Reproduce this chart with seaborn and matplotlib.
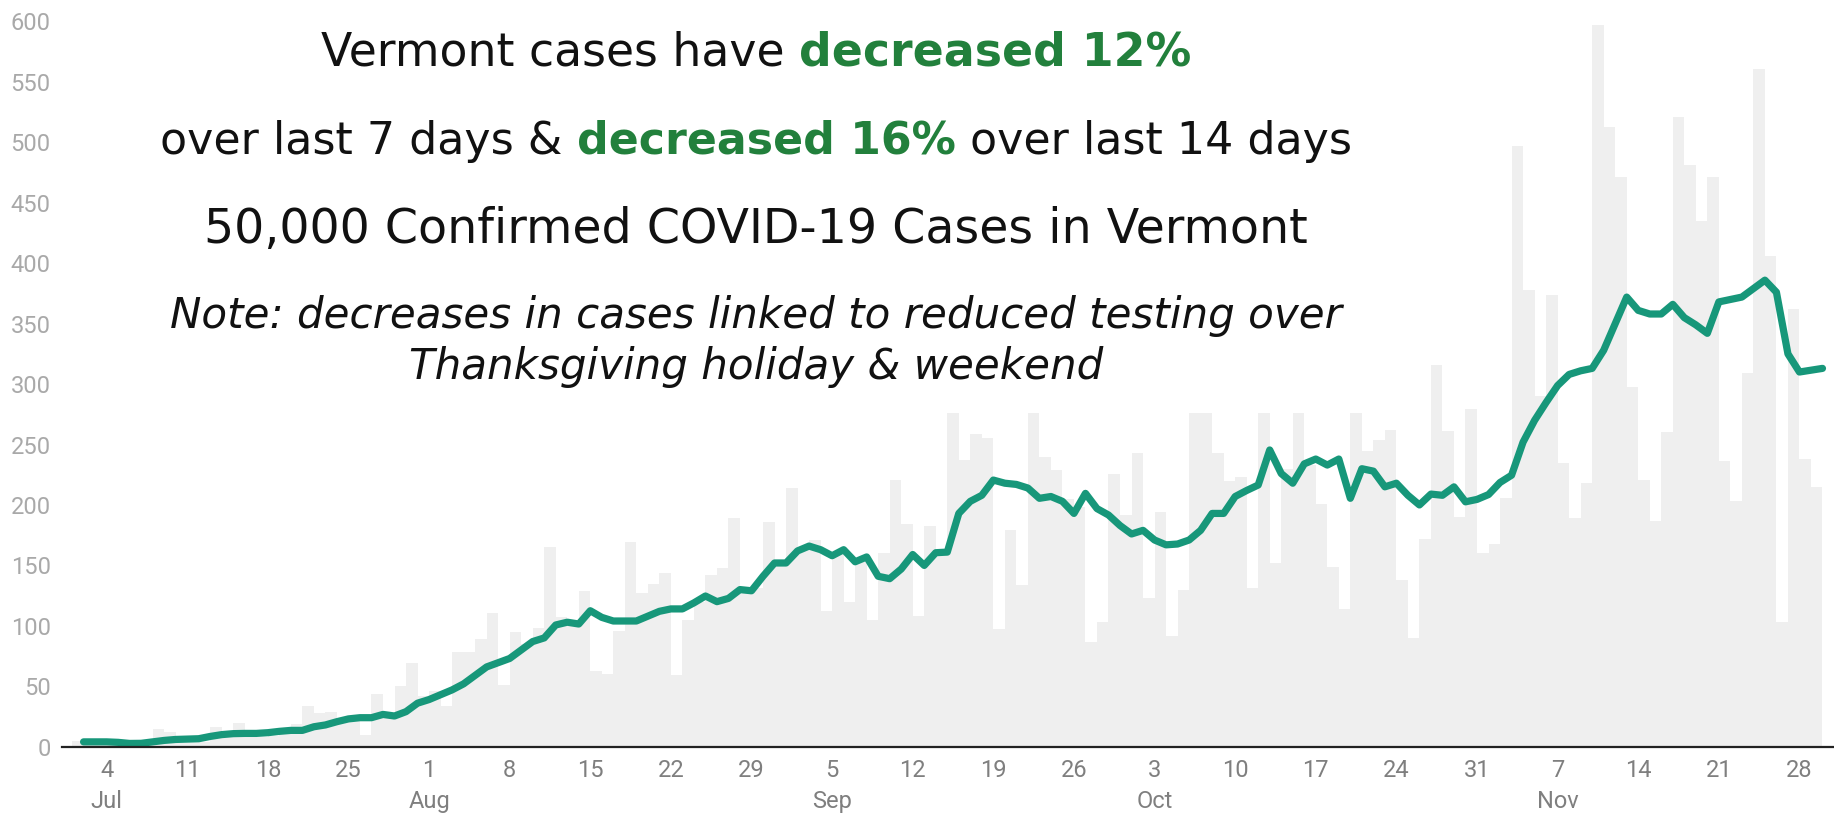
import numpy as np
import pandas as pd
import matplotlib
matplotlib.use("Agg")
import matplotlib.pyplot as plt
from matplotlib.patches import Rectangle
import seaborn as sns

# daily confirmed cases, Jul 1 - Nov 29 2020
cases = [5, 6, 3, 4, 2, 1, 3, 15, 12, 6,
         7, 4, 16, 8, 20, 10, 8, 9, 13, 19,
         34, 28, 29, 24, 22, 10, 44, 28, 50, 69,
         42, 46, 34, 78, 78, 89, 111, 51, 95, 85,
         98, 165, 107, 105, 129, 63, 60, 96, 169, 127,
         135, 144, 59, 105, 120, 142, 148, 189, 127, 131,
         186, 150, 214, 165, 171, 112, 160, 120, 154, 105,
         160, 221, 184, 108, 183, 161, 330, 237, 259, 255,
         97, 179, 134, 290, 240, 229, 205, 198, 87, 103,
         226, 192, 243, 123, 194, 92, 130, 290, 300, 243,
         220, 223, 131, 335, 152, 230, 355, 233, 201, 149,
         114, 323, 245, 254, 262, 138, 90, 172, 316, 261,
         190, 279, 160, 168, 206, 497, 378, 290, 374, 235,
         189, 218, 597, 513, 471, 298, 221, 187, 260, 521,
         481, 435, 471, 236, 203, 309, 561, 406, 103, 362,
         238, 215]

# 7-day average as drawn (value at the end of each day)
avg7 = [4, 4, 4, 3.6, 2.7, 2.8, 4, 5.2, 6, 6.3,
        6.6, 8.5, 10, 10.8, 11, 11, 11.6, 12.7, 13.5, 13.5,
        16.5, 18, 20.7, 23, 24, 24, 26.7, 25.4, 29, 36,
        39, 43, 47, 52, 59, 66, 69.5, 73, 80, 87,
        90, 100.7, 103, 101.5, 112.5, 107, 104, 104, 104, 108,
        112, 114, 114, 119, 124.7, 120, 122.7, 130, 129, 141,
        152, 152, 162, 166, 163, 158, 163, 153, 157, 141,
        139, 147, 159, 150, 160.5, 161, 193, 203, 208, 220.6,
        218, 217, 214, 205.5, 207, 203, 193, 209.6, 197, 191.7,
        183, 176, 179, 171, 167, 167.7, 171, 179, 193, 193,
        207, 212, 216.5, 245.5, 226, 218, 234, 238, 233, 238,
        205.5, 230, 228, 215, 218, 208, 200, 209, 208, 215,
        202.6, 204.6, 208.6, 218.6, 224.6, 252, 270, 284.8, 298.8, 308,
        311, 313, 328, 350, 372, 361, 358, 358, 366, 355,
        349, 342, 368, 370, 372, 379, 386, 376, 325, 310,
        311.5, 313]

tick_labels = ["4\nJul", "11", "18", "25", "1\nAug", "8", "15", "22", "29",
               "5\nSep", "12", "19", "26", "3\nOct", "10", "17", "24", "31",
               "7\nNov", "14", "21", "28"]
y_ticks = list(range(0, 601, 50))

dates = pd.date_range("2020-07-01", "2020-11-29", freq="D")
origin = pd.Timestamp("2020-07-04")
df = pd.DataFrame({"date": dates, "cases": cases, "avg": avg7})
df["day"] = (df["date"] - origin).dt.days
df["mid"] = df["day"] + 0.5      # bar sits over its own day
df["end"] = df["day"] + 1        # average plotted at end of day
tick_pos = [(d - origin).days for d in pd.date_range("2020-07-04", periods=len(tick_labels), freq="7D")]

sns.set_theme(style="white")
plt.rcParams["font.family"] = ["Roboto", "DejaVu Sans"]

W, H = 1834, 816
fig = plt.figure(figsize=(W / 100, H / 100), dpi=100)
ax = fig.add_axes([61.7 / W, 1 - 746.7 / H, 1 - 61.7 / W, (746.7 - 21.5) / H])

sns.barplot(data=df, x="mid", y="cases", native_scale=True, width=1,
            color="#efefef", saturation=1, errorbar=None, linewidth=0,
            antialiased=False, ax=ax)

# white panel behind the headline text hides the bar tops
ax.add_patch(Rectangle((-3.9, 276), 116, 400, facecolor="white",
                       edgecolor="none", zorder=1.5))

sns.lineplot(data=df, x="end", y="avg", color="#17977a", linewidth=5.2,
             estimator=None, ax=ax, zorder=3,
             solid_capstyle="round", solid_joinstyle="round")

ax.set_xlim(-3.9, 150)
ax.set_ylim(0, 600)
ax.set_yticks(y_ticks)
ax.set_xticks(tick_pos)
ax.set_xticklabels(tick_labels, linespacing=1.45)
ax.set_xlabel("")
ax.set_ylabel("")
for s in ["top", "right", "left"]:
    ax.spines[s].set_visible(False)
ax.spines["bottom"].set_color("#222222")
ax.spines["bottom"].set_linewidth(1.6)
ax.spines["bottom"].set_zorder(4)
ax.tick_params(axis="y", length=0, pad=8, labelsize=17, labelcolor="#a9a9a9")
ax.tick_params(axis="x", length=0, pad=9, labelsize=17, labelcolor="#7f7f7f")

# headline text
head_font = "DejaVu Sans"
green = "#22803c"
dark = "#111111"
renderer = fig.canvas.get_renderer()
cx = 756


def text_width(s, size, weight="normal", style="normal"):
    t = fig.text(0, 0, s, fontsize=size, fontweight=weight, fontstyle=style, family=head_font)
    w = t.get_window_extent(renderer).width
    t.remove()
    return w


def line_width(parts, size, style):
    space = text_width("a a", size, style=style) - text_width("aa", size, style=style)
    widths = [text_width(s, size, wt, style) for s, wt, c in parts]
    return widths, space, sum(widths) + space * (len(parts) - 1)


def fit_size(parts, target, style="normal"):
    # size at which the whole line spans the same width as in the original
    _, _, w30 = line_width(parts, 30, style)
    return 30 * target / w30


def draw_line(base_y, parts, size, style="normal"):
    widths, space, total = line_width(parts, size, style)
    x = cx - total / 2
    for (s, wt, c), w in zip(parts, widths):
        fig.text(x / W, 1 - base_y / H, s, fontsize=size, fontweight=wt, fontstyle=style,
                 color=c, family=head_font, ha="left", va="baseline")
        x += w + space


line1 = [("Vermont cases have", "normal", dark), ("decreased 12%", "bold", green)]
line2 = [("over last 7 days &", "normal", dark), ("decreased 16%", "bold", green),
         ("over last 14 days", "normal", dark)]
line3 = [("50,000 Confirmed COVID-19 Cases in Vermont", "normal", dark)]
note1 = [("Note: decreases in cases linked to reduced testing over", "normal", dark)]
note2 = [("Thanksgiving holiday & weekend", "normal", dark)]

draw_line(66, line1, fit_size(line1, 870))
draw_line(154, line2, fit_size(line2, 1190))
draw_line(243, line3, fit_size(line3, 1104))
note_size = fit_size(note1, 1171, "italic")
draw_line(328, note1, note_size, "italic")
draw_line(379, note2, note_size, "italic")

fig.savefig("out.png", dpi=100)
